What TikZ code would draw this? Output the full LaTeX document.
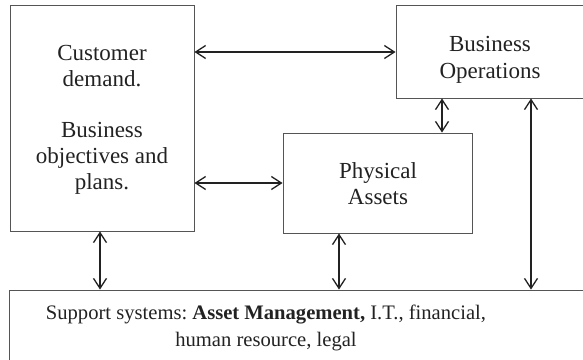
\documentclass[tikz,border=0pt]{standalone}
\usepackage{fontspec}
\setmainfont{Liberation Serif}
\usetikzlibrary{arrows.meta}
\definecolor{boxline}{HTML}{555555}
\definecolor{ink}{HTML}{222222}
\frenchspacing
\begin{document}
\begin{tikzpicture}[x=1pt,y=-1pt,
  box/.style={draw=boxline,line width=0.9pt,inner sep=0pt},
  txt/.style={text=ink,align=center,inner sep=0pt,anchor=north,
    font=\fontsize{23}{26.5}\selectfont},
  link/.style={draw=ink,line width=1.3pt,{Straight Barb[length=10pt,width=13pt]}-{Straight Barb[length=10pt,width=13pt]}},
  lbl/.style={text=ink,align=center,anchor=north,font=\fontsize{20.6}{27.4}\selectfont,inner sep=0pt}]
\useasboundingbox (0,0) rectangle (583,359);
\node[box,minimum width=184pt,minimum height=226pt] (cust) at (102,118) {};
\node[box,minimum width=190pt,minimum height=93pt] (ops) at (491,51.5) {};
\node[box,minimum width=189pt,minimum height=100pt] (phys) at (377.5,183) {};
\node[box,minimum width=590pt,minimum height=90pt] (supp) at (304,335) {};
\node[txt,font=\fontsize{23}{26}\selectfont] (custtext) at (102,45.5)
  {Customer\\demand.\\[25pt]Business\\objectives and\\plans.};
\node[txt] (opstext) at (490,36.5) {Business\\Operations};
\node[txt] (phystext) at (378,162.3) {Physical\\Assets};
\node[lbl] (supptext) at (266,304.7)
  {Support systems: \textbf{Asset Management,} I.T., financial,\\human resource, legal};
\draw[link] (cust.east |- 0,52) -- (ops.west |- 0,52);
\draw[link] (cust.east |- 0,183) -- (phys.west |- 0,183);
\draw[link] (ops.south -| 442,0) -- (phys.north -| 442,0);
\draw[link] (ops.south -| 531,0) -- (supp.north -| 531,0);
\draw[link] (cust.south -| 100,0) -- (supp.north -| 100,0);
\draw[link] (phys.south -| 339,0) -- (supp.north -| 339,0);
\end{tikzpicture}
\end{document}
